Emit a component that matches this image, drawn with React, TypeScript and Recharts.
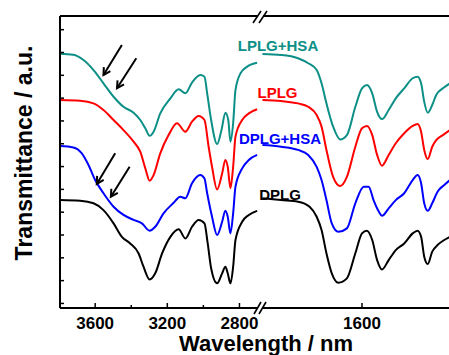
import React from 'react';
import { LineChart, Line, XAxis, YAxis, ReferenceLine } from 'recharts';

const FONT = '"Liberation Sans", Arial, sans-serif';

// ---------- left segment (3800 - 2680 cm-1) ----------
const tealLeftWn = [3794, 3721, 3665, 3609, 3554, 3498, 3443, 3387, 3350, 3322, 3298, 3276, 3239, 3183, 3137, 3100, 3063, 3017, 2994, 2979, 2957, 2924, 2900, 2878, 2862, 2850, 2835, 2822, 2794, 2757, 2702];
const tealLeft = [109.4, 109.0, 106.7, 102.3, 96.5, 90.6, 86.2, 83.6, 80.4, 76.8, 73.5, 75.3, 83.3, 89.9, 93.9, 92.1, 96.8, 100.1, 99.4, 92.1, 80.4, 69.9, 75.9, 83.6, 80.4, 70.9, 79.0, 93.6, 100.9, 103.8, 105.5];

const redLeftWn = [3794, 3683, 3609, 3554, 3498, 3443, 3387, 3350, 3322, 3298, 3276, 3239, 3193, 3146, 3100, 3063, 3026, 2994, 2971, 2952, 2924, 2896, 2878, 2865, 2850, 2835, 2822, 2785, 2748, 2702];
const redLeft = [89.2, 88.9, 87.7, 84.8, 80.4, 76.0, 70.9, 66.5, 59.2, 53.8, 56.3, 65.8, 73.8, 79.0, 75.3, 79.7, 82.2, 80.4, 68.7, 59.9, 50.0, 57.0, 62.9, 59.9, 50.5, 59.9, 73.1, 80.4, 83.3, 85.1];

const blueLeftWn = [3794, 3721, 3674, 3637, 3600, 3554, 3498, 3443, 3387, 3341, 3298, 3267, 3221, 3165, 3128, 3100, 3063, 3017, 2994, 2979, 2952, 2924, 2896, 2878, 2865, 2850, 2835, 2822, 2785, 2748, 2702];
const blueLeft = [69.0, 68.4, 65.8, 60.7, 54.1, 48.3, 42.4, 38.8, 36.6, 35.1, 31.9, 33.6, 39.5, 44.1, 46.8, 46.1, 52.7, 56.3, 54.8, 48.3, 38.0, 30.0, 35.8, 40.6, 38.0, 30.7, 39.5, 51.2, 59.2, 62.9, 65.1];

const blackLeftWn = [3794, 3683, 3609, 3554, 3498, 3452, 3406, 3359, 3332, 3298, 3267, 3229, 3183, 3137, 3100, 3063, 3026, 2994, 2976, 2957, 2924, 2896, 2878, 2865, 2850, 2835, 2822, 2785, 2748, 2702];
const blackLeft = [45.3, 45.0, 43.9, 40.9, 35.1, 29.2, 26.3, 21.9, 16.1, 10.5, 13.2, 21.9, 29.2, 32.5, 28.5, 33.6, 36.6, 35.1, 26.3, 15.4, 8.8, 13.2, 16.1, 13.2, 8.8, 16.1, 27.8, 35.8, 38.8, 40.6];

// ---------- right segment (1825 - 1375 cm-1) ----------
const tealRightWn = [1824, 1782, 1744, 1721, 1702, 1691, 1680, 1665, 1649, 1634, 1615, 1600, 1589, 1577, 1566, 1555, 1540, 1524, 1505, 1486, 1475, 1467, 1460, 1452, 1442, 1433, 1418, 1402];
const tealRight = [109.3, 108.9, 107.5, 105.3, 102.3, 96.5, 87.7, 77.5, 71.9, 73.8, 86.2, 94.3, 95.7, 92.1, 84.0, 80.8, 84.8, 89.9, 94.3, 98.7, 99.4, 96.5, 88.4, 83.6, 87.0, 91.4, 94.3, 96.5];

const redRightWn = [1824, 1782, 1744, 1721, 1702, 1691, 1680, 1665, 1649, 1634, 1615, 1600, 1589, 1577, 1566, 1555, 1540, 1524, 1505, 1486, 1475, 1467, 1460, 1452, 1442, 1433, 1418, 1402];
const redRight = [89.2, 88.7, 87.7, 86.2, 82.6, 77.5, 67.3, 55.5, 51.5, 55.5, 68.7, 76.8, 77.8, 73.8, 65.1, 60.4, 65.1, 70.2, 74.6, 77.8, 78.7, 75.3, 67.3, 63.3, 68.7, 71.6, 73.8, 76.0];

const blueRightWn = [1824, 1782, 1744, 1721, 1702, 1691, 1680, 1668, 1653, 1634, 1615, 1596, 1585, 1574, 1562, 1555, 1540, 1524, 1505, 1486, 1475, 1467, 1460, 1452, 1442, 1430, 1415, 1402];
const blueRight = [69.4, 68.7, 67.3, 65.1, 59.9, 54.1, 45.3, 35.1, 31.4, 32.9, 43.9, 51.2, 51.2, 45.3, 40.2, 38.4, 41.7, 45.3, 48.3, 54.1, 56.3, 52.7, 43.9, 40.6, 43.9, 49.0, 51.9, 54.1];

const blackRightWn = [1824, 1782, 1744, 1718, 1702, 1691, 1680, 1668, 1653, 1634, 1615, 1600, 1589, 1577, 1566, 1555, 1540, 1524, 1505, 1486, 1475, 1467, 1460, 1452, 1442, 1430, 1415, 1402];
const blackRight = [46.1, 45.3, 44.6, 42.4, 38.0, 32.2, 22.0, 13.2, 9.1, 11.0, 22.0, 30.7, 31.9, 27.8, 19.0, 14.9, 19.0, 23.4, 26.3, 30.7, 31.9, 29.2, 20.5, 17.3, 22.7, 25.6, 27.8, 29.2];

// ---------- axes ----------
const leftDomain = [2675, 3795];
const rightDomain = [1375, 1825];
const yDomain = [-2, 126];
const yTicks = [0, 10, 20, 30, 40, 50, 60, 70, 80, 90, 100, 110, 120];
const leftMajorTicks = [3600, 3200, 2800];
const leftMinorTicks = [3400, 3000];
const rightMajorTicks = [1600];

// ---------- annotations ----------
const seriesNames = ['LPLG+HSA', 'LPLG', 'DPLG+HSA', 'DPLG'];
const seriesColors = ['#0c8f86', '#ff0000', '#0000ff', '#000000'];
// arrows: tail -> tip
const arrowTailWn = [3452, 3372, 3489, 3409];
const arrowTailVal = [113.3, 107.5, 65.8, 59.9];
const arrowTipWn = [3554, 3479, 3591, 3513];
const arrowTipVal = [100.1, 94.3, 52.4, 46.8];

const pts = (xs: number[], ys: number[]) => xs.map((x, i) => ({ x, y: ys[i] }));

const leftSeries = [pts(tealLeftWn, tealLeft), pts(redLeftWn, redLeft), pts(blueLeftWn, blueLeft), pts(blackLeftWn, blackLeft)];
const rightSeries = [pts(tealRightWn, tealRight), pts(redRightWn, redRight), pts(blueRightWn, blueRight), pts(blackRightWn, blackRight)];

const makeXTick = (majors: number[]) => (props: any) => {
  const { x, y, payload } = props;
  const major = majors.includes(payload.value);
  return (
    <g>
      <line x1={x} x2={x} y1={y} y2={y - (major ? 5 : 3)} stroke="#000" strokeWidth={1.5} />
      {major && (
        <text x={x} y={y + 20.5} textAnchor="middle" fontFamily={FONT} fontWeight="bold" fontSize={17} fill="#000">
          {payload.value}
        </text>
      )}
    </g>
  );
};

const YTick = (props: any) => {
  const { x, y } = props;
  return <line x1={x} x2={x + 4} y1={y} y2={y} stroke="#000" strokeWidth={1.5} />;
};

const Arrow = (props: any) => {
  const { x1, y1, x2, y2 } = props;
  if (x1 == null) return null;
  const ang = Math.atan2(y2 - y1, x2 - x1);
  const L = 8;
  const a1 = ang + Math.PI - 0.5;
  const a2 = ang + Math.PI + 0.5;
  return (
    <g>
      <line x1={x1} y1={y1} x2={x2} y2={y2} stroke="#000" strokeWidth={2} />
      <polyline
        points={`${x2 + L * Math.cos(a1)},${y2 + L * Math.sin(a1)} ${x2},${y2} ${x2 + L * Math.cos(a2)},${y2 + L * Math.sin(a2)}`}
        fill="none"
        stroke="#000"
        strokeWidth={2}
      />
    </g>
  );
};

const labelPos = [
  { x: 278, y: 51 },
  { x: 277.5, y: 98 },
  { x: 280, y: 144 },
  { x: 280, y: 199.5 },
];

const frame = { stroke: '#000', strokeWidth: 2, ifOverflow: 'visible' as const };

export default function App() {
  return (
    <div style={{ position: 'absolute', left: 0, top: 0, width: 449, height: 355, overflow: 'hidden', background: '#fff' }}>
      <div style={{ position: 'absolute', left: 0, top: 0 }}>
        <LineChart width={262} height={355} margin={{ top: 16, right: 0, bottom: 0, left: 0 }}>
          <XAxis
            xAxisId="b"
            type="number"
            dataKey="x"
            domain={leftDomain}
            reversed
            allowDataOverflow
            ticks={[...leftMajorTicks, ...leftMinorTicks]}
            interval={0}
            height={47}
            tickSize={0}
            tickMargin={0}
            tickLine={false}
            tick={makeXTick(leftMajorTicks)}
            stroke="#000"
            axisLine={{ stroke: '#000', strokeWidth: 2 }}
          />
          <YAxis
            type="number"
            domain={yDomain}
            allowDataOverflow
            ticks={yTicks}
            interval={0}
            width={60}
            tickSize={0}
            tickMargin={0}
            tickLine={false}
            tick={YTick}
            stroke="#000"
            axisLine={{ stroke: '#000', strokeWidth: 2 }}
          />
          <ReferenceLine xAxisId="b" y={-2} {...frame} />
          <ReferenceLine xAxisId="b" y={126} {...frame} />
          <ReferenceLine xAxisId="b" x={3795} {...frame} />
          {leftSeries.map((d, i) => (
            <Line
              key={'l' + i}
              xAxisId="b"
              data={d}
              dataKey="y"
              type="monotone"
              stroke={seriesColors[i]}
              strokeWidth={2}
              dot={false}
              activeDot={false}
              isAnimationActive={false}
            />
          ))}
          {arrowTailWn.map((tw, i) => (
            <ReferenceLine
              key={'a' + i}
              xAxisId="b"
              ifOverflow="visible"
              segment={[
                { x: tw, y: arrowTailVal[i] },
                { x: arrowTipWn[i], y: arrowTipVal[i] },
              ]}
              shape={Arrow}
            />
          ))}
        </LineChart>
      </div>
      <div style={{ position: 'absolute', left: 262, top: 0 }}>
        <LineChart width={200} height={355} margin={{ top: 16, right: 0, bottom: 0, left: 0 }}>
          <XAxis
            xAxisId="b"
            type="number"
            dataKey="x"
            domain={rightDomain}
            reversed
            allowDataOverflow
            ticks={rightMajorTicks}
            interval={0}
            height={47}
            tickSize={0}
            tickMargin={0}
            tickLine={false}
            tick={makeXTick(rightMajorTicks)}
            stroke="#000"
            axisLine={{ stroke: '#000', strokeWidth: 2 }}
          />
          <YAxis type="number" domain={yDomain} allowDataOverflow hide width={0} />
          <ReferenceLine xAxisId="b" y={-2} {...frame} />
          <ReferenceLine xAxisId="b" y={126} {...frame} />
          {rightSeries.map((d, i) => (
            <Line
              key={'r' + i}
              xAxisId="b"
              data={d}
              dataKey="y"
              type="monotone"
              stroke={seriesColors[i]}
              strokeWidth={2}
              dot={false}
              activeDot={false}
              isAnimationActive={false}
            />
          ))}
        </LineChart>
      </div>
      <svg width={449} height={355} style={{ position: 'absolute', left: 0, top: 0, pointerEvents: 'none' }}>
        {/* axis breaks */}
        <rect x={257} y={13} width={6} height={6} fill="#fff" />
        <rect x={257} y={305} width={6} height={6} fill="#fff" />
        <line x1={253} y1={23} x2={261} y2={11} stroke="#000" strokeWidth={1.6} />
        <line x1={259} y1={23} x2={267} y2={11} stroke="#000" strokeWidth={1.6} />
        <line x1={254} y1={314} x2={261} y2={302} stroke="#000" strokeWidth={1.6} />
        <line x1={259} y1={314} x2={266} y2={302} stroke="#000" strokeWidth={1.6} />
        {seriesNames.map((n, i) => (
          <text key={n} x={labelPos[i].x} y={labelPos[i].y} textAnchor="middle" fontFamily={FONT} fontWeight="bold" fontSize={15} fill={seriesColors[i]}>
            {n}
          </text>
        ))}
        <text x={266} y={351} textAnchor="middle" fontFamily={FONT} fontWeight="bold" fontSize={22} fill="#000">
          Wavelength / nm
        </text>
        <text x={31.5} y={153} transform="rotate(-90 31.5 153)" textAnchor="middle" fontFamily={FONT} fontWeight="bold" fontSize={23} fill="#000">
          Transmittance / a.u.
        </text>
      </svg>
    </div>
  );
}
